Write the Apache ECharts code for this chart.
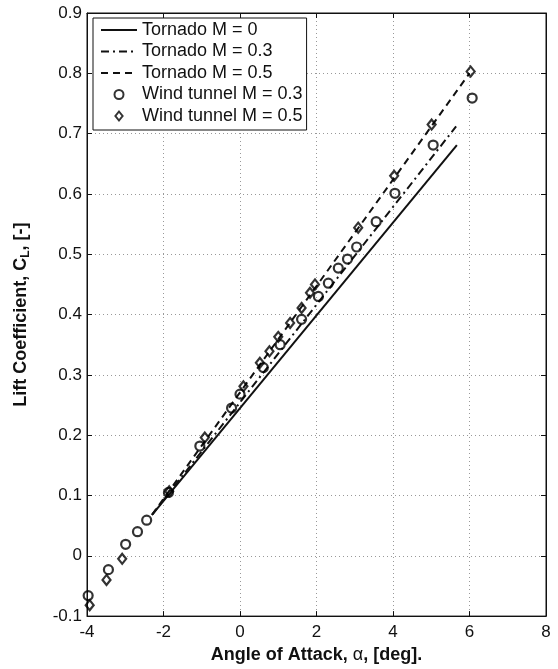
<!DOCTYPE html>
<html lang="en">
<head>
<meta charset="UTF-8">
<title>Lift coefficient</title>
<script src="https://cdn.jsdelivr.net/npm/echarts@6/dist/echarts.min.js"></script>
<style>
  html, body { margin: 0; padding: 0; background: #fff; }
  #main { width: 558px; height: 669px; }
</style>
</head>
<body>
<div id="main"></div>
<script>
// Tornado (VLM) lines: end points [alpha, CL]
var tornadoM0  = [[-2.3, 0.068], [5.67, 0.681]];
var tornadoM03 = [[-2.3, 0.068], [5.65, 0.712]];
var tornadoM05 = [[-2.3, 0.068], [6.0, 0.80]];

// wind tunnel measurements
var windM03 = [
  [-3.97, -0.066], [-3.44, -0.023], [-2.99, 0.019], [-2.68, 0.04], [-2.44, 0.059],
  [-1.87, 0.105], [-1.05, 0.182], [-0.22, 0.245], [0.0, 0.268], [0.61, 0.312],
  [1.05, 0.35], [1.61, 0.392], [2.05, 0.43], [2.31, 0.452], [2.57, 0.477],
  [2.81, 0.492], [3.05, 0.512], [3.56, 0.554], [4.05, 0.601], [5.05, 0.681],
  [6.07, 0.759]
];
var windM05 = [
  [-3.93, -0.082], [-3.49, -0.04], [-3.08, -0.005], [-1.85, 0.107], [-0.92, 0.196],
  [0.09, 0.281], [0.52, 0.32], [0.77, 0.339], [1.0, 0.363], [1.31, 0.386],
  [1.61, 0.411], [1.83, 0.436], [1.96, 0.45], [3.09, 0.544], [4.03, 0.63],
  [5.01, 0.715], [6.03, 0.803]
];

var names = ['Tornado M = 0', 'Tornado M = 0.3', 'Tornado M = 0.5',
             'Wind tunnel M = 0.3', 'Wind tunnel M = 0.5'];

var font = 'Liberation Sans, Arial, Helvetica, sans-serif';
var ink = '#111';

var chart = echarts.init(document.getElementById('main'));

function lineSeries(name, data, type) {
  return {
    name: name, type: 'line', data: data,
    symbol: 'none', silent: true, z: 3,
    lineStyle: { color: ink, width: 2, type: type },
    itemStyle: { color: ink }
  };
}
function markSeries(name, data, symbol, size) {
  return {
    name: name, type: 'scatter', data: data,
    symbol: symbol, symbolSize: size, z: 4,
    itemStyle: { color: 'transparent', borderColor: '#000', borderWidth: 2.2 }
  };
}

var tickStyle = { show: true, inside: true, length: 5, lineStyle: { color: ink } };
var noDot = { color: 'transparent', borderColor: 'transparent', borderWidth: 0, opacity: 0 };

chart.setOption({
  animation: false,
  textStyle: { fontFamily: font },
  grid: { left: 87, right: 12, top: 13, bottom: 52, show: true,
          borderColor: ink, borderWidth: 1 },
  legend: {
    orient: 'vertical', left: 93, top: 18,
    padding: [3, 4, 5, 7], itemGap: 3.5,
    itemWidth: 36, itemHeight: 9,
    backgroundColor: '#fff', borderColor: ink, borderWidth: 1,
    textStyle: { fontFamily: font, fontSize: 18, color: ink },
    data: [
      { name: names[0], itemStyle: noDot },
      { name: names[1], itemStyle: noDot },
      { name: names[2], itemStyle: noDot },
      { name: names[3] },
      { name: names[4], icon: 'path://M4,0 L8,5 L4,10 L0,5 Z' }
    ]
  },
  xAxis: [{
    type: 'value', min: -4, max: 8, interval: 2,
    name: 'Angle of Attack, {g|α}, [deg].',
    nameLocation: 'middle', nameGap: 25,
    nameTextStyle: { fontFamily: font, fontSize: 18, fontWeight: 'bold', color: ink,
      rich: { g: { fontFamily: font, fontSize: 18, fontWeight: 'normal', color: ink } } },
    axisLine: { onZero: false, lineStyle: { color: ink } },
    axisTick: tickStyle,
    axisLabel: { fontFamily: font, fontSize: 17, color: ink, margin: 8 },
    splitLine: { show: true, lineStyle: { color: '#999', type: [1, 3] } }
  }, {
    type: 'value', position: 'top', min: -4, max: 8, interval: 2,
    axisLine: { show: true, onZero: false, lineStyle: { color: ink } },
    axisTick: tickStyle, axisLabel: { show: false }, splitLine: { show: false }
  }],
  yAxis: [{
    type: 'value', min: -0.1, max: 0.9, interval: 0.1,
    name: 'Lift Coefficient, C{s|L}, [-]',
    nameLocation: 'middle', nameGap: 55,
    nameTextStyle: { fontFamily: font, fontSize: 18, fontWeight: 'bold', color: ink,
      rich: { s: { fontFamily: font, fontSize: 12, fontWeight: 'bold', color: ink,
                   padding: [9, 0, 0, 0] } } },
    axisLine: { show: true, onZero: false, lineStyle: { color: ink } },
    axisTick: tickStyle,
    axisLabel: { fontFamily: font, fontSize: 17, color: ink, margin: 5,
      formatter: function (v) { return Math.round(v * 10) / 10; } },
    splitLine: { show: true, lineStyle: { color: '#999', type: [1, 3] } }
  }, {
    type: 'value', position: 'right', min: -0.1, max: 0.9, interval: 0.1,
    axisLine: { show: true, onZero: false, lineStyle: { color: ink } },
    axisTick: tickStyle, axisLabel: { show: false }, splitLine: { show: false }
  }],
  series: [
    lineSeries(names[0], tornadoM0, 'solid'),
    lineSeries(names[1], tornadoM03, [8, 4, 2, 4]),
    lineSeries(names[2], tornadoM05, [7, 5]),
    markSeries(names[3], windM03, 'circle', 9),
    markSeries(names[4], windM05, 'diamond', [8, 10])
  ]
});
</script>
</body>
</html>
